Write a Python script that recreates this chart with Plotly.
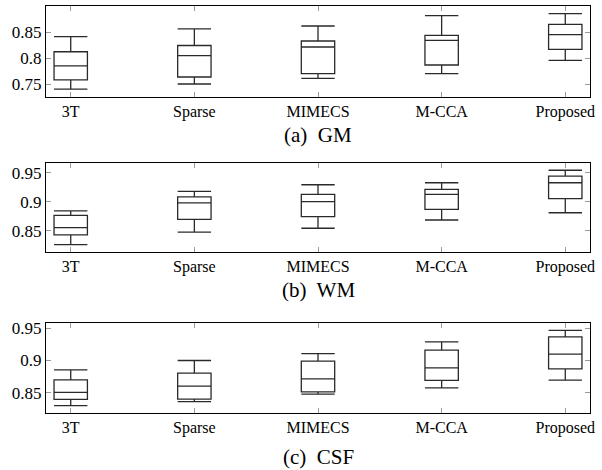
import plotly.graph_objects as go

METHODS = ['3T', 'Sparse', 'MIMECS', 'M-CCA', 'Proposed']
POSITIONS = [1, 2, 3, 4, 5]

# box statistics per tissue: lower whisker, q1, median, q3, upper whisker
GM_LOW = [0.740, 0.750, 0.761, 0.770, 0.7955]
GM_Q1 = [0.758, 0.7635, 0.770, 0.7865, 0.8167]
GM_MED = [0.785, 0.8045, 0.8212, 0.834, 0.8449]
GM_Q3 = [0.812, 0.824, 0.8327, 0.8436, 0.8647]
GM_HIGH = [0.841, 0.856, 0.8615, 0.8814, 0.8853]

WM_LOW = [0.8256, 0.8472, 0.854, 0.8682, 0.8807]
WM_Q1 = [0.8426, 0.8693, 0.8739, 0.8864, 0.9051]
WM_MED = [0.8551, 0.8977, 0.900, 0.9125, 0.9324]
WM_Q3 = [0.8761, 0.908, 0.9125, 0.921, 0.9438]
WM_HIGH = [0.8841, 0.9176, 0.929, 0.9324, 0.954]

CSF_LOW = [0.8299, 0.8361, 0.8479, 0.8577, 0.8696]
CSF_Q1 = [0.8397, 0.8402, 0.8515, 0.8691, 0.8871]
CSF_MED = [0.8505, 0.8603, 0.8716, 0.8887, 0.9098]
CSF_Q3 = [0.8701, 0.8804, 0.899, 0.916, 0.9366]
CSF_HIGH = [0.8856, 0.900, 0.9108, 0.9289, 0.9469]

PANELS = [
    ('(a)  GM', GM_LOW, GM_Q1, GM_MED, GM_Q3, GM_HIGH, [0.725, 0.9], [0.75, 0.8, 0.85], ['0.75', '0.8', '0.85']),
    ('(b)  WM', WM_LOW, WM_Q1, WM_MED, WM_Q3, WM_HIGH, [0.813, 0.9665], [0.85, 0.9, 0.95], ['0.85', '0.9', '0.95']),
    ('(c)  CSF', CSF_LOW, CSF_Q1, CSF_MED, CSF_Q3, CSF_HIGH, [0.8186, 0.9582], [0.85, 0.9, 0.95], ['0.85', '0.9', '0.95']),
]

W, H = 602, 470
FONT = 'Liberation Serif'
# pixel extents of each plot area (top, bottom)
PANEL_PX = [(6, 97), (163, 252), (323, 413)]
CAPTION_Y = [135, 290, 457]
X0, X1 = 46, 590

fig = go.Figure()
layout = dict(
    width=W, height=H,
    margin=dict(l=0, r=0, t=0, b=0),
    paper_bgcolor='white', plot_bgcolor='white',
    showlegend=False,
    font=dict(family=FONT, size=16, color='black'),
    annotations=[],
)

for i, (cap, lo, q1, med, q3, hi, yr, tv, tt) in enumerate(PANELS):
    n = '' if i == 0 else str(i + 1)
    fig.add_trace(go.Box(
        x=POSITIONS, lowerfence=lo, q1=q1, median=med, q3=q3, upperfence=hi,
        width=0.27, whiskerwidth=1,
        line=dict(color='#2a2a2a', width=1.3),
        fillcolor='rgba(0,0,0,0)',
        xaxis='x' + n, yaxis='y' + n,
        hoverinfo='skip',
    ))
    top, bot = PANEL_PX[i]
    layout['xaxis' + n] = dict(
        domain=[X0 / W, X1 / W], range=[0.8, 5.2], anchor='y' + n,
        tickvals=POSITIONS, ticktext=METHODS, automargin=False,
        ticks='inside', ticklen=5, tickcolor='#999999', tickwidth=1,
        showline=True, linecolor='black', linewidth=1, mirror='ticks',
        showgrid=False, zeroline=False,
        tickfont=dict(family=FONT, size=16, color='black'),
    )
    layout['yaxis' + n] = dict(
        domain=[1 - bot / H, 1 - top / H], range=yr, anchor='x' + n,
        tickvals=tv, ticktext=tt, automargin=False,
        ticks='inside', ticklen=5, tickcolor='#999999', tickwidth=1,
        showline=True, linecolor='black', linewidth=1, mirror='ticks',
        showgrid=False, zeroline=False,
        tickfont=dict(family=FONT, size=17, color='black'),
    )
    layout['annotations'].append(dict(
        text=cap, x=(X0 + X1) / 2 / W, y=1 - CAPTION_Y[i] / H,
        xref='paper', yref='paper', showarrow=False,
        xanchor='center', yanchor='middle',
        font=dict(family=FONT, size=21, color='black'),
    ))

fig.update_layout(**layout)
# drop the browser's default page margin so the figure sits at the top-left corner
fig.write_html('out.html', config={'displayModeBar': False},
               post_script="document.body.style.margin='0';")
